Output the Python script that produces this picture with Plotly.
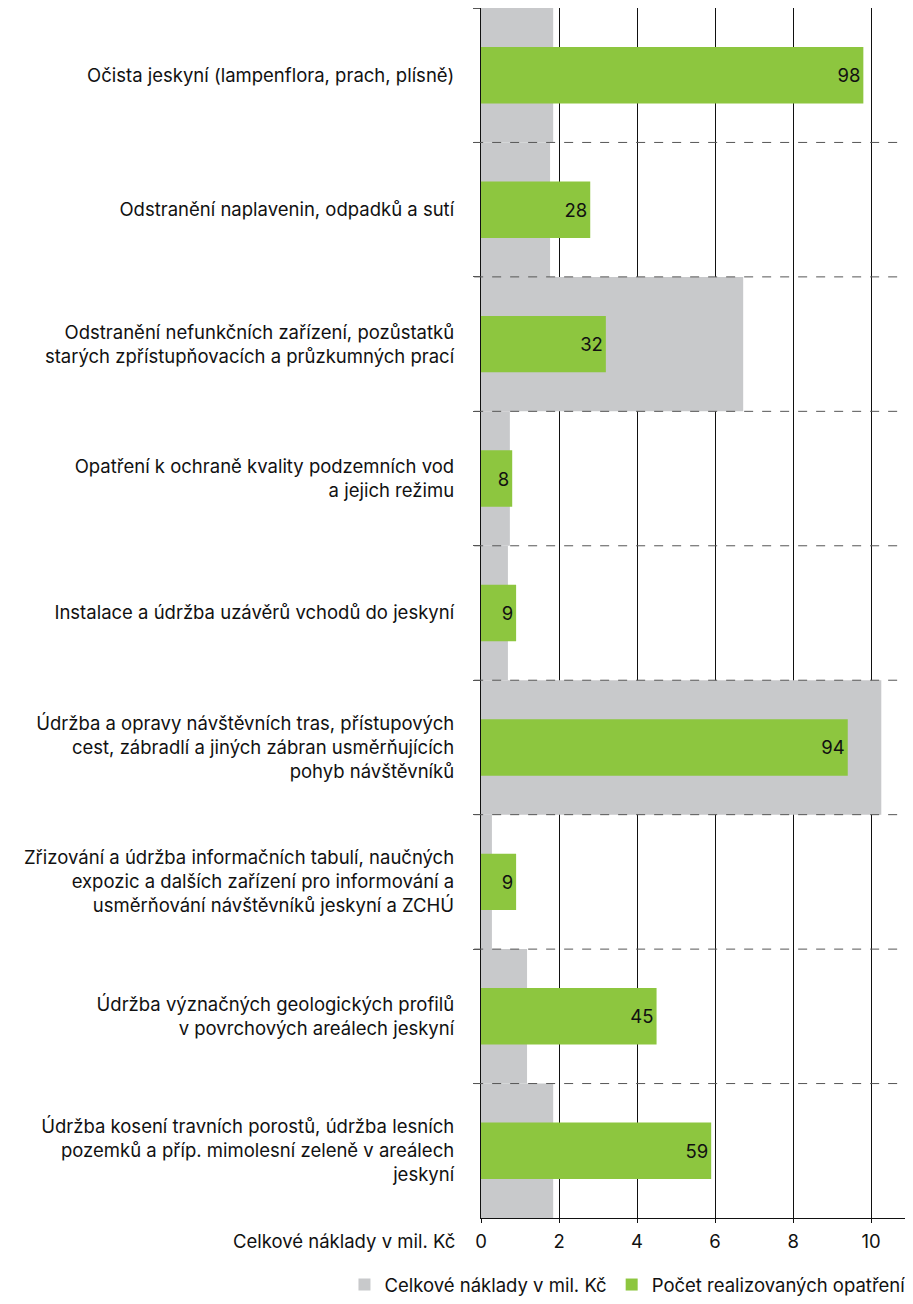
import plotly.graph_objects as go

categories = [
    "Očista jeskyní (lampenflora, prach, plísně)",
    "Odstranění naplavenin, odpadků a sutí",
    "Odstranění nefunkčních zařízení, pozůstatků<br>starých zpřístupňovacích a průzkumných prací",
    "Opatření k ochraně kvality podzemních vod<br>a jejich režimu",
    "Instalace a údržba uzávěrů vchodů do jeskyní",
    "Údržba a opravy návštěvních tras, přístupových<br>cest, zábradlí a jiných zábran usměrňujících<br>pohyb návštěvníků",
    "Zřizování a údržba informačních tabulí, naučných<br>expozic a dalších zařízení pro informování a<br>usměrňování návštěvníků jeskyní a ZCHÚ",
    "Údržba význačných geologických profilů<br>v povrchových areálech jeskyní",
    "Údržba kosení travních porostů, údržba lesních<br>pozemků a příp. mimolesní zeleně v areálech<br>jeskyní",
]
costs = [1.85, 1.77, 6.72, 0.74, 0.69, 10.26, 0.28, 1.18, 1.85]
counts = [98, 28, 32, 8, 9, 94, 9, 45, 59]
x_ticks = [0, 2, 4, 6, 8, 10]

name_costs = "Celkové náklady v mil. Kč"
name_counts = "Počet realizovaných opatření"

FONT = "Inter"
FS = 18.5
GRAY = "#c8c9cb"
GREEN = "#8dc63f"
INK = "#111111"
XMAX = 10.97

fig = go.Figure()
fig.add_trace(go.Bar(
    y=categories, x=costs, orientation="h", width=1,
    marker=dict(color=GRAY, line=dict(width=0)),
    name=name_costs, xaxis="x", yaxis="y",
))
fig.add_trace(go.Bar(
    y=categories, x=counts, orientation="h", width=0.42,
    marker=dict(color=GREEN, line=dict(width=0)),
    name=name_counts, xaxis="x2", yaxis="y",
    text=counts, textposition="inside", insidetextanchor="end",
    textfont=dict(color=INK, size=FS, family=FONT),
    cliponaxis=False,
))

# dashed separators between categories, drawn above bars
shapes = []
for i in range(len(categories) - 1):
    shapes.append(dict(
        type="line", xref="paper", yref="y",
        x0=-0.016, x1=1, y0=i + 0.5, y1=i + 0.5,
        line=dict(color="#555555", width=1, dash="dash"),
        layer="above",
    ))

fig.update_layout(
    width=905, height=1296,
    margin=dict(l=473, r=4, t=0, b=83),
    paper_bgcolor="white", plot_bgcolor="white",
    font=dict(family=FONT, size=FS, color=INK),
    barmode="overlay",
    showlegend=True,
    legend=dict(
        orientation="h", x=-0.319, xanchor="left", y=-0.0555, yanchor="middle",
        font=dict(size=FS, family=FONT, color=INK),
        traceorder="normal", itemwidth=30,
    ),
    xaxis=dict(
        range=[0, XMAX], tickvals=x_ticks, showgrid=True,
        gridcolor=INK, gridwidth=1.3,
        showline=True, linecolor=INK, linewidth=1.3, mirror=True,
        ticks="outside", ticklen=4, tickcolor=INK, ticklabelstandoff=3,
        tickfont=dict(size=FS), zeroline=False, fixedrange=True,
    ),
    xaxis2=dict(
        range=[0, XMAX * 10], overlaying="x", visible=False,
        showgrid=False, zeroline=False,
    ),
    yaxis=dict(
        type="category", autorange="reversed", tickson="boundaries",
        showgrid=False, showline=True, linecolor=INK, linewidth=1.3,
        ticks="outside", ticklen=7, tickcolor="#555555",
        ticklabelstandoff=22, tickfont=dict(size=FS),
    ),
    shapes=shapes,
    annotations=[dict(
        text=name_costs, xref="paper", yref="paper", x=0, y=0,
        xanchor="right", yanchor="middle", xshift=-24, yshift=-23,
        showarrow=False, font=dict(size=FS, family=FONT, color=INK),
    )],
)

fig.write_html("out.html")
